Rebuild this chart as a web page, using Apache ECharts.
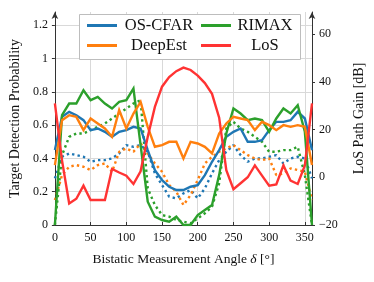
<!DOCTYPE html>
<html><head><meta charset="utf-8">
<script src="https://cdn.jsdelivr.net/npm/echarts@6/dist/echarts.min.js"></script>
<style>html,body{margin:0;padding:0;background:#fff}#c{width:374px;height:282px}</style>
</head><body><div id="c"></div>
<script>
// Bistatic angle (deg)
const angles = [0,10,20,30,40,50,60,70,80,90,100,110,120,130,140,150,160,170,180,190,200,210,220,230,240,250,260,270,280,290,300,310,320,330,340,350,360];
// Solid lines (left axis, probability)
const osCfar  = [0.45,0.65,0.68,0.66,0.63,0.57,0.58,0.56,0.53,0.56,0.57,0.59,0.58,0.45,0.33,0.27,0.23,0.21,0.21,0.23,0.24,0.30,0.38,0.45,0.53,0.56,0.58,0.50,0.50,0.51,0.57,0.62,0.62,0.63,0.68,0.64,0.45];
const deepEst = [0.36,0.63,0.66,0.65,0.57,0.64,0.61,0.58,0.53,0.69,0.58,0.67,0.74,0.59,0.47,0.48,0.50,0.50,0.40,0.50,0.49,0.47,0.43,0.55,0.61,0.65,0.64,0.63,0.57,0.62,0.60,0.57,0.60,0.59,0.60,0.59,0.36];
const rimax   = [0.00,0.66,0.73,0.73,0.81,0.75,0.77,0.73,0.70,0.74,0.75,0.82,0.48,0.14,0.05,0.03,0.02,0.05,0.00,0.00,0.06,0.09,0.12,0.30,0.55,0.70,0.67,0.63,0.64,0.63,0.56,0.64,0.70,0.67,0.72,0.56,0.00];
// Dotted lines (left axis)
const osCfarDot  = [0.28,0.41,0.43,0.42,0.41,0.38,0.39,0.39,0.40,0.43,0.48,0.47,0.48,0.44,0.31,0.24,0.17,0.16,0.19,0.21,0.16,0.22,0.31,0.39,0.44,0.48,0.42,0.38,0.40,0.40,0.41,0.42,0.37,0.40,0.41,0.40,0.28];
const deepEstDot = [0.15,0.30,0.35,0.36,0.35,0.33,0.36,0.37,0.32,0.44,0.46,0.44,0.49,0.43,0.37,0.32,0.24,0.20,0.12,0.18,0.27,0.37,0.41,0.44,0.46,0.48,0.45,0.42,0.40,0.39,0.40,0.30,0.31,0.34,0.33,0.32,0.15];
const rimaxDot   = [0.00,0.42,0.53,0.55,0.55,0.57,0.59,0.61,0.64,0.67,0.70,0.73,0.75,0.22,0.12,0.06,0.05,0.03,0.02,0.01,0.04,0.07,0.11,0.25,0.58,0.62,0.58,0.56,0.53,0.50,0.44,0.44,0.45,0.45,0.47,0.30,0.00];
// LoS path gain (right axis, dB)
const losGain = [31,7,-11,-9,-3.5,-9.5,-9.5,-9.5,3.5,2,0.7,-2.8,2.5,17,29.5,38,42,44.5,46,45,42.6,39.5,35,25,3,-5,-2.5,0,5,0.7,-3.5,-3,5,-1.4,-2.8,5,31];

const legendCol1 = ['OS-CFAR','DeepEst'];
const legendCol2 = ['RIMAX','LoS'];

const FONT = '"Liberation Serif","Times New Roman",serif';
const C = {blue:'#1f77b4', orange:'#ff7f0e', green:'#2ca02c', red:'#ff3333'};
const pairs = v => angles.map((a,i)=>[a,v[i]]);
const LW = 2.4;
function solid(name,color,vals,yi){
  return {type:'line',name,data:pairs(vals),yAxisIndex:yi,symbol:'none',showSymbol:false,
    lineStyle:{color,width:LW,type:'solid',join:'miter'},itemStyle:{color},emphasis:{disabled:true}};
}
function dotted(name,color,vals){
  return {type:'line',name,data:pairs(vals),yAxisIndex:0,symbol:'none',showSymbol:false,
    lineStyle:{color,width:LW,type:[2.4,3.2],cap:'butt'},itemStyle:{color},emphasis:{disabled:true}};
}
const axisCol = '#333';
const gridCol = '#d9d9d9';
const tickLabel = {fontFamily:FONT,fontSize:12,color:'#111'};
const legendBase = {orient:'vertical',top:17,itemWidth:30,itemHeight:3,itemGap:3,icon:'rect',padding:0,selectedMode:false,
  formatter:n=>'{t|'+n+'}'};

const option = {
  animation:false,
  backgroundColor:'#fff',
  grid:{left:54,right:61,top:12,bottom:57},
  xAxis:{type:'value',min:0,max:360,interval:50,
    axisLine:{onZero:false,lineStyle:{color:axisCol,width:1}},
    axisTick:{show:true,inside:true,length:3,lineStyle:{color:axisCol}},
    axisLabel:Object.assign({showMaxLabel:false,margin:7},tickLabel),
    splitLine:{show:true,lineStyle:{color:gridCol,width:1}},
    name:'Bistatic Measurement Angle {i|δ} [°]',nameLocation:'middle',nameGap:27,
    nameTextStyle:{fontFamily:FONT,fontSize:13.5,color:'#111',rich:{i:{fontFamily:FONT,fontSize:13.5,fontStyle:'italic',color:'#111'}}}
  },
  yAxis:[
    {type:'value',min:0,max:1.28,interval:0.2,position:'left',
      axisLine:{show:true,symbol:['none','arrow'],symbolSize:[5,7],lineStyle:{color:axisCol,width:1}},
      axisTick:{show:true,length:3,lineStyle:{color:axisCol}},
      axisLabel:Object.assign({showMaxLabel:false,margin:7},tickLabel),
      splitLine:{show:true,showMaxLine:false,lineStyle:{color:gridCol,width:1}},
      name:'Target Detection Probability',nameLocation:'middle',nameGap:32,
      nameTextStyle:{fontFamily:FONT,fontSize:14,color:'#111'}
    },
    {type:'value',min:-20,max:69.3,interval:20,position:'right',
      axisLine:{show:true,symbol:['none','arrow'],symbolSize:[5,7],lineStyle:{color:axisCol,width:1}},
      axisTick:{show:true,length:3,lineStyle:{color:axisCol}},
      axisLabel:Object.assign({showMaxLabel:false,margin:7,formatter:v=>String(v).replace('-','\u2212')},tickLabel),
      splitLine:{show:false},
      name:'LoS Path Gain [dB]',nameLocation:'middle',nameGap:40,
      nameTextStyle:{fontFamily:FONT,fontSize:14,color:'#111'}
    }
  ],
  legend:[
    Object.assign({},legendBase,{data:legendCol1,left:87,
      textStyle:{fontFamily:FONT,fontSize:16.5,color:'#111',rich:{t:{width:74,align:'center',fontFamily:FONT,fontSize:16.5,color:'#111'}}}}),
    Object.assign({},legendBase,{data:legendCol2,left:201,
      textStyle:{fontFamily:FONT,fontSize:16.5,color:'#111',rich:{t:{width:58,align:'center',fontFamily:FONT,fontSize:16.5,color:'#111'}}}})
  ],
  graphic:[{type:'rect',silent:true,z:3,shape:{x:79.5,y:14.5,width:221,height:45},style:{fill:'#fff',stroke:'#bdbdbd',lineWidth:1}}],
  series:[
    dotted('OS-CFAR dotted',C.blue,osCfarDot),
    dotted('DeepEst dotted',C.orange,deepEstDot),
    dotted('RIMAX dotted',C.green,rimaxDot),
    solid('OS-CFAR',C.blue,osCfar,0),
    solid('RIMAX',C.green,rimax,0),
    solid('DeepEst',C.orange,deepEst,0),
    solid('LoS',C.red,losGain,1)
  ]
};
const chart = echarts.init(document.getElementById('c'),null,{renderer:'canvas'});
chart.setOption(option);
</script></body></html>
